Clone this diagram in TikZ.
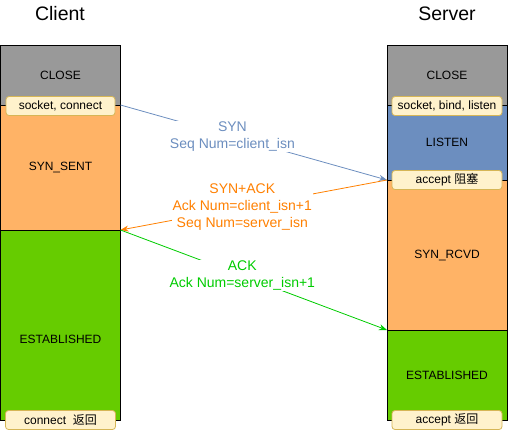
\documentclass[tikz,border=0pt]{standalone}
\usepackage{fontspec}
\setmainfont{Liberation Sans}
\newfontfamily\cjkfont{Noto Sans CJK SC}
\usetikzlibrary{positioning}
\usetikzlibrary{arrows.meta}
\definecolor{closegray}{HTML}{999999}
\definecolor{sentorange}{HTML}{FFB366}
\definecolor{listenblue}{HTML}{6C8EBF}
\definecolor{estgreen}{HTML}{66CC00}
\definecolor{notefill}{HTML}{FFF2CC}
\definecolor{notedraw}{HTML}{D6B656}
\definecolor{synblue}{HTML}{6C8EBF}
\definecolor{ackorange}{HTML}{FF8000}
\definecolor{ackgreen}{HTML}{00CC00}
\tikzstyle{every node}=[font=\fontsize{12}{14}\selectfont]
\tikzstyle{state}=[rectangle,draw=black,line width=1pt,minimum width=120pt,inner sep=0pt,outer sep=0pt]
\tikzstyle{note}=[rectangle,draw=notedraw,fill=notefill,rounded corners=3pt,line width=0.8pt,minimum width=110pt,minimum height=19pt,inner sep=0pt]
\tikzstyle{title}=[font=\fontsize{19.5}{22}\selectfont]
\tikzstyle{msg}=[line width=0.8pt,-{Stealth[length=8pt,width=6pt]}]
\tikzstyle{msglabel}=[fill=white,align=center,inner sep=1pt,font=\fontsize{14}{17}\selectfont]

\begin{document}
\begin{tikzpicture}[x=1pt,y=-1pt]
    \useasboundingbox (0,0) rectangle (509,432);

    % Titles
    \node[title] (client) at (60,14) {Client};
    \node[title] (server) at (447,14) {Server};

    % Client column
    \node[state,fill=closegray,minimum height=60pt,anchor=north west] (cClose) at (0.5,45) {CLOSE};
    \node[state,fill=sentorange,minimum height=125pt,below=0pt of cClose] (cSent) {SYN\_SENT};
    \node[state,fill=estgreen,minimum height=190pt,below=0pt of cSent,
        label={[yshift=-14pt]center:ESTABLISHED}] (cEst) {};

    % Server column
    \node[state,fill=closegray,minimum height=60pt,anchor=north west] (sClose) at (387,45) {CLOSE};
    \node[state,fill=listenblue,minimum height=75pt,below=0pt of sClose] (sListen) {LISTEN};
    \node[state,fill=sentorange,minimum height=150pt,below=0pt of sListen] (sRcvd) {SYN\_RCVD};
    \node[state,fill=estgreen,minimum height=90pt,below=0pt of sRcvd] (sEst) {ESTABLISHED};

    % Calls on the columns
    \node[note,minimum width=109pt,yshift=-1pt] (cConnect) at (cClose.south) {socket, connect};
    \node[note] (cReturn) at (cEst.south) {connect \ {\cjkfont 返回}};
    \node[note,yshift=-1pt] (sListenCall) at (sClose.south) {socket, bind, listen};
    \node[note] (sAccept) at (sListen.south) {accept {\cjkfont 阻塞}};
    \node[note] (sReturn) at (sEst.south) {accept {\cjkfont 返回}};

    % Handshake messages
    \draw[msg,synblue] (cClose.south east) -- node[msglabel,pos=0.42,text=synblue]
        {SYN\\Seq Num=client\_isn} (sListen.south west);
    \draw[msg,ackorange] (sRcvd.north west) -- node[msglabel,pos=0.543,text=ackorange]
        {SYN+ACK\\Ack Num=client\_isn+1\\Seq Num=server\_isn} (cSent.south east);
    \draw[msg,ackgreen] (cEst.north east) -- node[msglabel,pos=0.457,text=ackgreen]
        {ACK\\Ack Num=server\_isn+1} (sEst.north west);

\end{tikzpicture}
\end{document}
